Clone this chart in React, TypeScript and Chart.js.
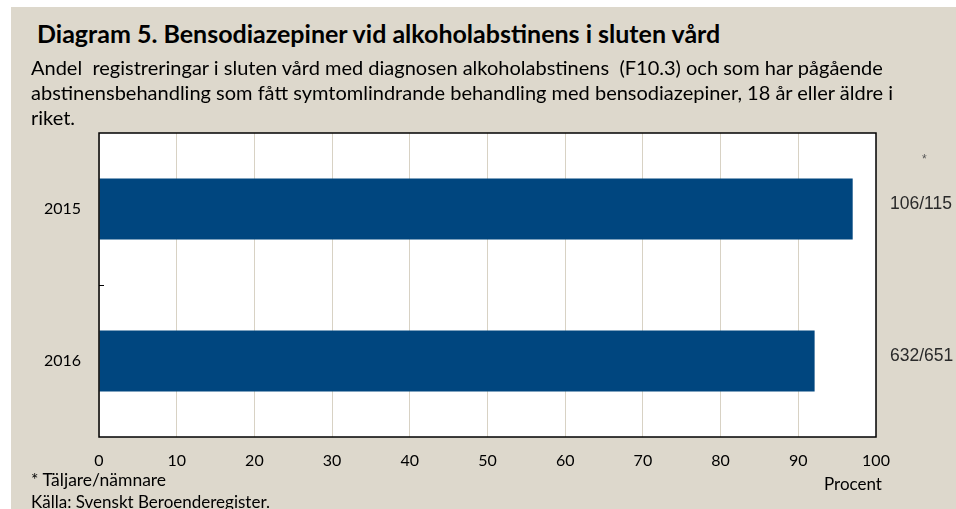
import React, { useEffect, useRef } from "react";
import { Chart, registerables } from "chart.js";

Chart.register(...registerables);

const years = ["2015", "2016"];
const percentValues = [97.0, 92.1];
const ratioLabels = ["106/115", "632/651"];
const xTicks = [0, 10, 20, 30, 40, 50, 60, 70, 80, 90, 100];

const BEIGE = "#ddd8cc";
const BLUE = "#00467f";
const FONT = "Lato, 'Open Sans', sans-serif";

const plotDecor = {
  id: "plotDecor",
  beforeDraw(chart: any) {
    const { ctx, chartArea } = chart;
    ctx.save();
    ctx.fillStyle = "#ffffff";
    ctx.fillRect(chartArea.left, chartArea.top, chartArea.right - chartArea.left, chartArea.bottom - chartArea.top);
    ctx.restore();
  },
  afterDraw(chart: any) {
    const { ctx, chartArea, scales } = chart;
    ctx.save();
    ctx.strokeStyle = "#000000";
    ctx.lineWidth = 1.5;
    ctx.strokeRect(chartArea.left, chartArea.top, chartArea.right - chartArea.left, chartArea.bottom - chartArea.top);
    // inner tick marks between categories
    ctx.lineWidth = 1;
    for (let i = 0; i < years.length - 1; i++) {
      const y = Math.round(scales.y.getPixelForValue(i + 0.5)) + 0.5;
      ctx.beginPath();
      ctx.moveTo(chartArea.left, y);
      ctx.lineTo(chartArea.left + 5, y);
      ctx.stroke();
    }
    // ratio labels
    ctx.fillStyle = "#2a2a2a";
    ctx.font = "17.5px 'Liberation Sans', sans-serif";
    ctx.textBaseline = "middle";
    ctx.textAlign = "left";
    ratioLabels.forEach((lab, i) => {
      const y = scales.y.getPixelForValue(i) - 5;
      ctx.fillText(lab, chartArea.right + 14, y);
    });
    ctx.font = "12px 'Liberation Sans', sans-serif";
    ctx.fillStyle = "#555555";
    ctx.fillText("*", chartArea.right + 46, chartArea.top + 27);
    ctx.restore();
  },
};

export default function App() {
  const ref = useRef<HTMLCanvasElement | null>(null);

  useEffect(() => {
    if (!ref.current) return;
    const chart = new Chart(ref.current, {
      type: "bar",
      data: {
        labels: years,
        datasets: [
          {
            data: percentValues,
            backgroundColor: BLUE,
            borderWidth: 0,
            barPercentage: 0.4,
            categoryPercentage: 1,
          },
        ],
      },
      options: {
        indexAxis: "y",
        animation: false,
        responsive: false,
        maintainAspectRatio: false,
        layout: { padding: { left: 0, right: 80, top: 8, bottom: 0 } },
        plugins: { legend: { display: false }, tooltip: { enabled: false }, title: { display: false } },
        scales: {
          x: {
            type: "linear",
            min: 0,
            max: 100,
            afterBuildTicks: (scale: any) => {
              scale.ticks = xTicks.map((v) => ({ value: v }));
            },
            afterFit: (scale: any) => {
              scale.height = 58;
              scale.paddingLeft = 0;
              scale.paddingRight = 0;
            },
            ticks: { color: "#000", font: { family: FONT, size: 16 }, padding: 14, maxRotation: 0, autoSkip: false },
            grid: { color: "#d8d2c4", lineWidth: 1, drawTicks: false },
            border: { display: false },
          },
          y: {
            type: "category",
            afterFit: (scale: any) => {
              scale.width = 88;
              scale.paddingTop = 0;
              scale.paddingBottom = 0;
            },
            ticks: { color: "#000", font: { family: FONT, size: 16 }, padding: 18 },
            grid: { display: false, drawTicks: false },
            border: { display: false },
          },
        },
      },
      plugins: [plotDecor],
    } as any);
    return () => chart.destroy();
  }, []);

  const txt: React.CSSProperties = {
    position: "absolute",
    whiteSpace: "pre",
    fontFamily: FONT,
    color: "#000",
  };

  return (
    <div style={{ position: "fixed", left: 0, top: 0, width: 956, height: 509, background: "#fff", overflow: "hidden" }}>
      <div style={{ position: "absolute", left: 11, top: 7, right: 0, bottom: 0, background: BEIGE }} />
      <canvas ref={ref} width={945} height={370} style={{ position: "absolute", left: 11, top: 125, width: 945, height: 370 }} />
      <div style={{ ...txt, left: 37, top: 18, fontSize: 25, lineHeight: "30px", fontWeight: 700 }}>
        Diagram 5. Bensodiazepiner vid alkoholabstinens i sluten vård
      </div>
      <div style={{ ...txt, left: 31, top: 55, fontSize: 20, lineHeight: "25px" }}>
        {"Andel  registreringar i sluten vård med diagnosen alkoholabstinens  (F10.3) och som har pågående\nabstinensbehandling som fått symtomlindrande behandling med bensodiazepiner, 18 år eller äldre i\nriket."}
      </div>
      <div style={{ ...txt, left: 31, top: 469, fontSize: 17.5, lineHeight: "22px" }}>* Täljare/nämnare</div>
      <div style={{ ...txt, left: 31, top: 491, fontSize: 17, lineHeight: "22px" }}>Källa: Svenskt Beroenderegister.</div>
      <div style={{ ...txt, left: 824, top: 473, fontSize: 17, lineHeight: "22px" }}>Procent</div>
    </div>
  );
}
